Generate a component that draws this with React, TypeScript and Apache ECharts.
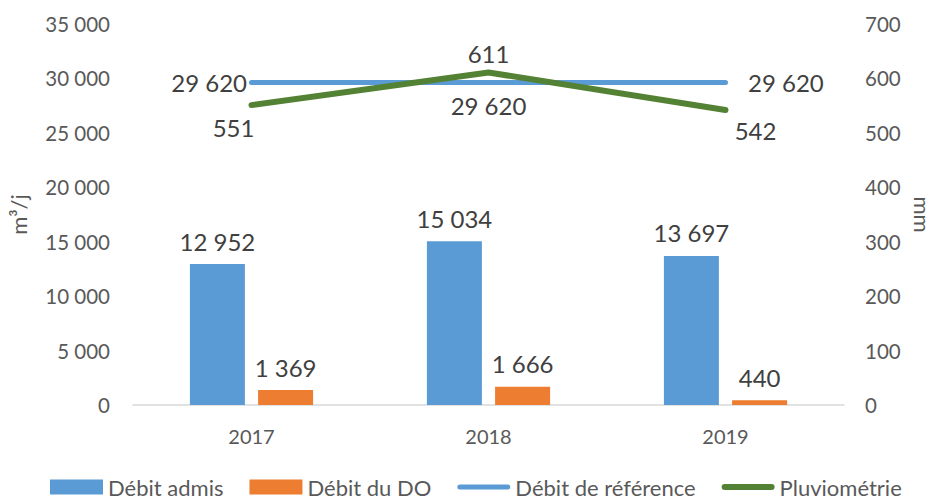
import React, { useEffect, useRef } from "react";
import * as echarts from "echarts";

const years = ["2017", "2018", "2019"];
const debitAdmis = [12952, 15034, 13697];
const debitDO = [1369, 1666, 440];
const debitReference = [29620, 29620, 29620];
const pluviometrie = [551, 611, 542];

const FONT = "Lato";
const fmt = (v: number) => String(Math.round(v)).replace(/\B(?=(\d{3})+(?!\d))/g, " ");

export default function App() {
  const ref = useRef<HTMLDivElement>(null);
  useEffect(() => {
    if (!ref.current) return;
    const chart = echarts.init(ref.current, null, { renderer: "svg" });
    const labelBase = { show: true, color: "#404040", fontSize: 24, fontFamily: FONT, formatter: (p: any) => fmt(p.value) };
    const refPos = [
      { position: "left", distance: 4, offset: [0, 0] },
      { position: "bottom", distance: 10, offset: [0, 0] },
      { position: "right", distance: 22, offset: [0, 0] },
    ];
    const pluvPos = [
      { position: "bottom", distance: 10, offset: [-18, 0] },
      { position: "top", distance: 6, offset: [0, 0] },
      { position: "bottom", distance: 8, offset: [30, 0] },
    ];
    const lineIcon = (h: number) =>
      `path://M${h / 2},0 L${53 - h / 2},0 A${h / 2},${h / 2} 0 0 1 ${53 - h / 2},${h} L${h / 2},${h} A${h / 2},${h / 2} 0 0 1 ${h / 2},0 Z`;
    chart.setOption({
      animation: false,
      textStyle: { fontFamily: FONT },
      grid: { left: 133, right: 89, top: 24, bottom: 94, outerBoundsMode: "none", containLabel: false },
      legend: {
        left: 50,
        top: 476,
        padding: 0,
        itemWidth: 53,
        itemHeight: 15,
        itemGap: 26,
        textStyle: { color: "#595959", fontSize: 22, fontFamily: FONT },
        data: [
          { name: "Débit admis", icon: "rect" },
          { name: "Débit du DO", icon: "rect" },
          { name: "Débit de référence", icon: lineIcon(5) },
          { name: "Pluviométrie", icon: lineIcon(6) },
        ],
      },
      xAxis: {
        type: "category",
        data: years,
        axisLine: { lineStyle: { color: "#D9D9D9", width: 1.5 } },
        axisTick: { show: false },
        axisLabel: { color: "#595959", fontSize: 20, margin: 21, fontFamily: FONT },
      },
      yAxis: [
        {
          type: "value",
          min: 0,
          max: 35000,
          interval: 5000,
          name: "m³/j",
          nameLocation: "middle",
          nameRotate: 90,
          nameGap: 104,
          nameTextStyle: { color: "#595959", fontSize: 22, fontFamily: FONT },
          splitLine: { show: false },
          axisLine: { show: false },
          axisLabel: { color: "#595959", fontSize: 20.5, margin: 23, fontFamily: FONT, formatter: (v: number) => fmt(v) },
        },
        {
          type: "value",
          min: 0,
          max: 700,
          interval: 100,
          name: "mm",
          nameLocation: "middle",
          nameRotate: -90,
          nameGap: 61,
          nameTextStyle: { color: "#595959", fontSize: 22, fontFamily: FONT },
          splitLine: { show: false },
          axisLine: { show: false },
          axisLabel: { color: "#595959", fontSize: 20.5, margin: 21, fontFamily: FONT },
        },
      ],
      series: [
        {
          name: "Débit admis",
          type: "bar",
          data: debitAdmis,
          barWidth: 55,
          barGap: "24%",
          itemStyle: { color: "#5B9BD5" },
          label: { ...labelBase, position: "top", distance: 11 },
        },
        {
          name: "Débit du DO",
          type: "bar",
          data: debitDO,
          barWidth: 55,
          barGap: "24%",
          itemStyle: { color: "#ED7D31" },
          label: { ...labelBase, position: "top", distance: 11 },
        },
        {
          name: "Débit de référence",
          type: "line",
          data: debitReference.map((v, i) => ({ value: v, label: refPos[i] })),
          showSymbol: true,
          symbol: "circle",
          symbolSize: 1,
          lineStyle: { color: "#5B9BD5", width: 5, cap: "round" },
          itemStyle: { color: "#5B9BD5" },
          label: { ...labelBase },
        },
        {
          name: "Pluviométrie",
          type: "line",
          yAxisIndex: 1,
          data: pluviometrie.map((v, i) => ({ value: v, label: pluvPos[i] })),
          showSymbol: true,
          symbol: "circle",
          symbolSize: 1,
          lineStyle: { color: "#548235", width: 6, cap: "round" },
          itemStyle: { color: "#548235" },
          label: { ...labelBase },
        },
      ],
    });
    return () => chart.dispose();
  }, []);
  return <div ref={ref} style={{ position: "absolute", left: 0, top: 0, width: 933, height: 499 }} />;
}
